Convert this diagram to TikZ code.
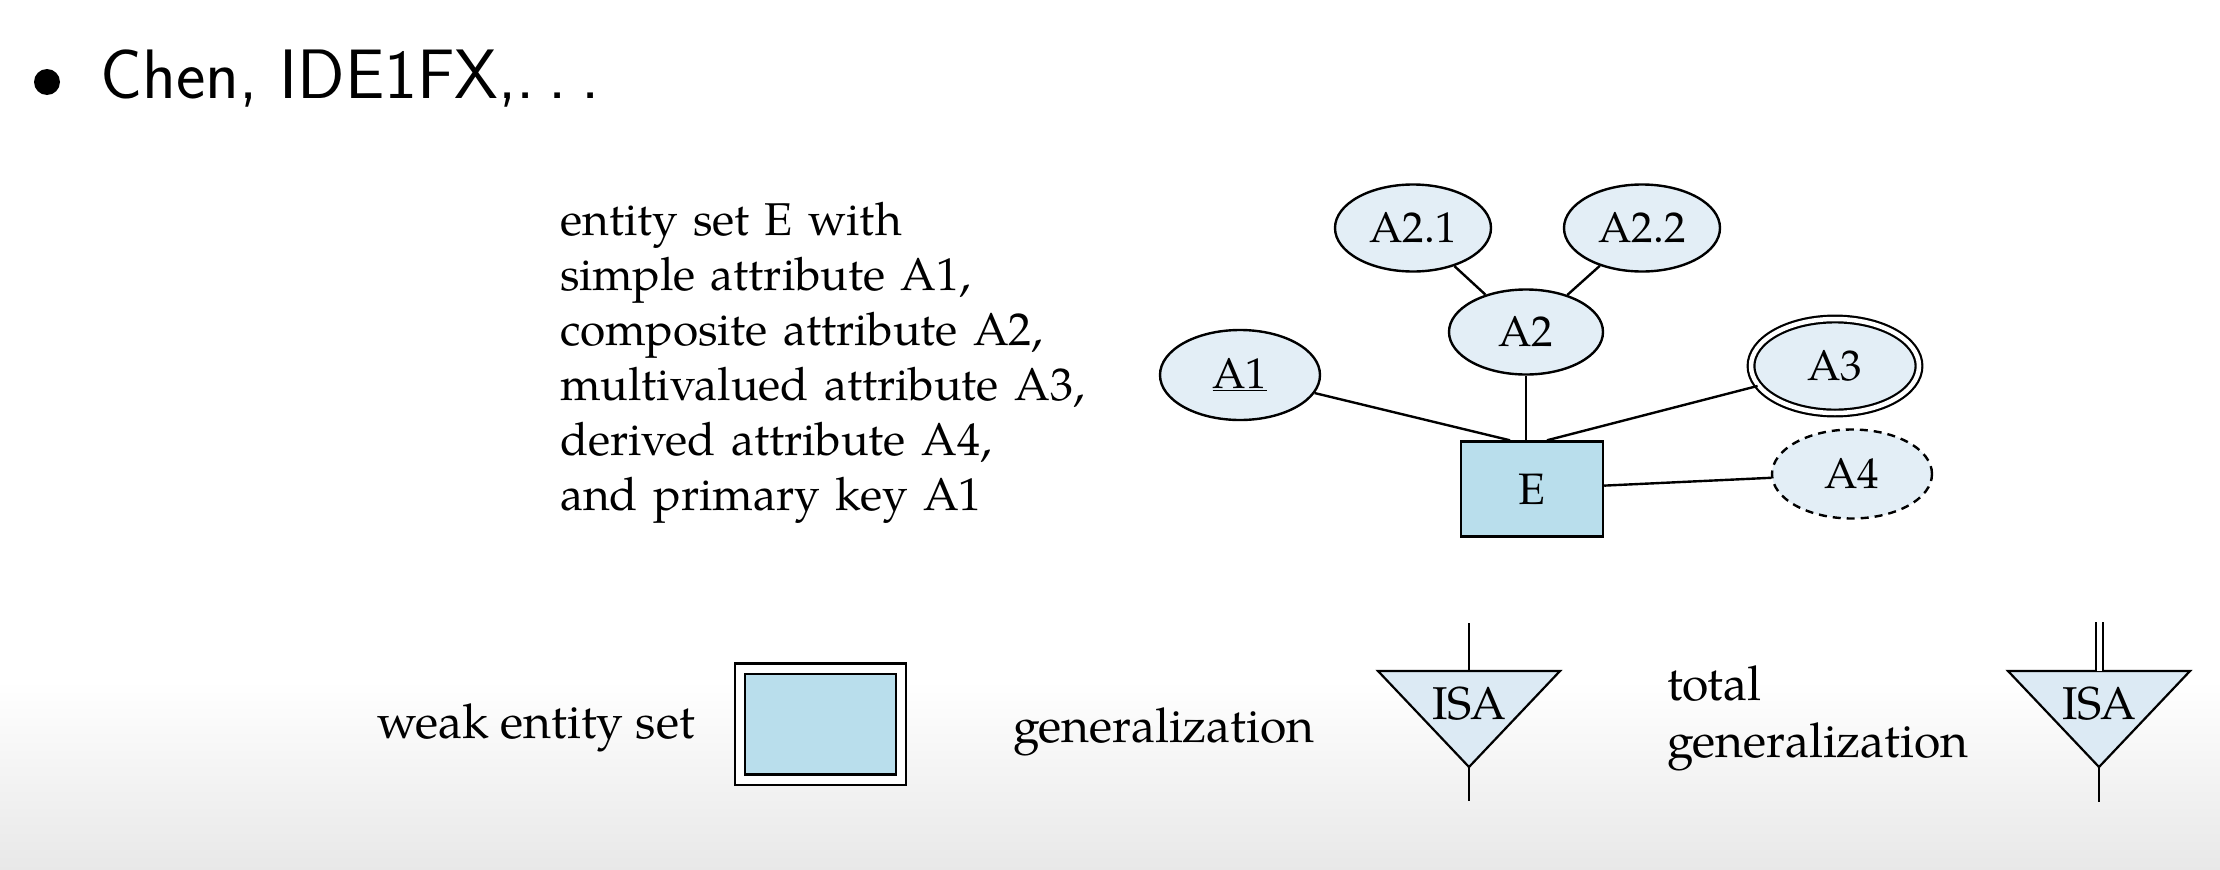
\documentclass[tikz,border=0pt]{standalone}
\usepackage{fontspec}
\setmainfont{TeX Gyre Pagella}
\usetikzlibrary{shapes.geometric}
\definecolor{attrfill}{HTML}{E3EEF6}
\definecolor{entfill}{HTML}{B9DEEC}
\definecolor{trifill}{HTML}{DCEAF4}
\begin{document}
\begin{tikzpicture}[x=1pt,y=-1pt,
  attr/.style={ellipse, draw, line width=2.4pt, fill=attrfill, inner sep=0pt, font=\fontsize{43}{50}\selectfont},
  ent/.style={rectangle, draw, line width=2.4pt, fill=entfill, inner sep=0pt, font=\fontsize{44}{52}\selectfont},
  conn/.style={line width=2.4pt},
  lbl/.style={inner sep=0pt, font=\fontsize{46}{55}\selectfont},
  botlbl/.style={inner sep=0pt, font=\fontsize{48}{57}\selectfont},
  tri/.style={draw, line width=2.2pt, fill=trifill, line join=miter},
  isatext/.style={inner sep=0pt, font=\fontsize{46}{50}\selectfont}
]
\useasboundingbox (0,0) rectangle (2220,870);
\fill[white] (0,0) rectangle (2220,870);
\shade[top color=white, bottom color=black!9] (0,680) rectangle (2220,870);

% title
\node[circle, fill=black, minimum size=26pt, inner sep=0pt] (bul) at (47,82) {};
\node[anchor=base west, inner sep=0pt, font=\sffamily\fontsize{70}{84}\selectfont] (title) at (100,98) {Chen, IDE1FX,.\kern14pt.\kern14pt.};

% description
\node[lbl, anchor=base west, text width=600pt, align=left] (desc) at (560,235)
  {entity set E with\\simple attribute A1,\\composite attribute A2,\\multivalued attribute A3,\\derived attribute A4,\\and primary key A1};

% ER example
\node[attr, minimum width=156pt, minimum height=87pt] (A21) at (1413,228) {A2.1};
\node[attr, minimum width=156pt, minimum height=87pt] (A22) at (1642,228) {A2.2};
\node[attr, minimum width=154pt, minimum height=85pt] (A2) at (1526,332) {A2};
\node[attr, minimum width=160pt, minimum height=90pt] (A1) at (1240,375) {\underline{A1}};
\node[attr, minimum width=168pt, minimum height=94pt, double=white, double distance=4.5pt, line width=2.2pt] (A3) at (1835,366) {A3};
\node[attr, minimum width=160pt, minimum height=89pt, dash pattern=on 8pt off 6pt] (A4) at (1852,474) {A4};
\node[ent, minimum width=142pt, minimum height=95pt] (E) at (1532,489) {E};

\draw[conn] (A21) -- (A2);
\draw[conn] (A22) -- (A2);
\draw[conn] (A1) -- ([xshift=-22pt]E.north);
\draw[conn] (A2) -- (A2 |- E.north);
\draw[conn] (A3) -- ([xshift=15pt]E.north);
\draw[conn] (E) -- (A4);

% weak entity set
\node[botlbl, anchor=base west] (weaklbl) at (377,738) {weak entity set};
\node[ent, minimum width=161pt, minimum height=111pt, double=white, double distance=8pt, line width=2.2pt] (weak) at (820.5,724) {};

% generalization
\node[botlbl, anchor=base west] (genlbl) at (1013,742) {generalization};
\coordinate (g1l) at (1378,671);
\coordinate (g1r) at (1560,671);
\coordinate (g1t) at (1469,671);
\coordinate (g1a) at (1469,767);
\coordinate (g1up) at (1469,623);
\coordinate (g1dn) at (1469,801);
\draw[tri] (g1l) -- (g1r) -- (g1a) -- cycle;
\node[isatext] (isa1) at (1469,704) {ISA};
\draw[line width=2.2pt] (g1up) -- (g1t);
\draw[line width=2.2pt] (g1a) -- (g1dn);

% total generalization
\node[botlbl, anchor=base west, text width=400pt, align=left] (totlbl) at (1667,700) {total\\generalization};
\coordinate (g2l) at (2008,671);
\coordinate (g2r) at (2190,671);
\coordinate (g2t) at (2099,671);
\coordinate (g2a) at (2099,767);
\coordinate (g2up) at (2099,622);
\coordinate (g2dn) at (2099,802);
\draw[tri] (g2l) -- (g2r) -- (g2a) -- cycle;
\node[isatext] (isa2) at (2099,704) {ISA};
\draw[line width=2pt, double=white, double distance=5pt] (g2up) -- (g2t);
\draw[line width=2.2pt] (g2a) -- (g2dn);
\end{tikzpicture}
\end{document}
